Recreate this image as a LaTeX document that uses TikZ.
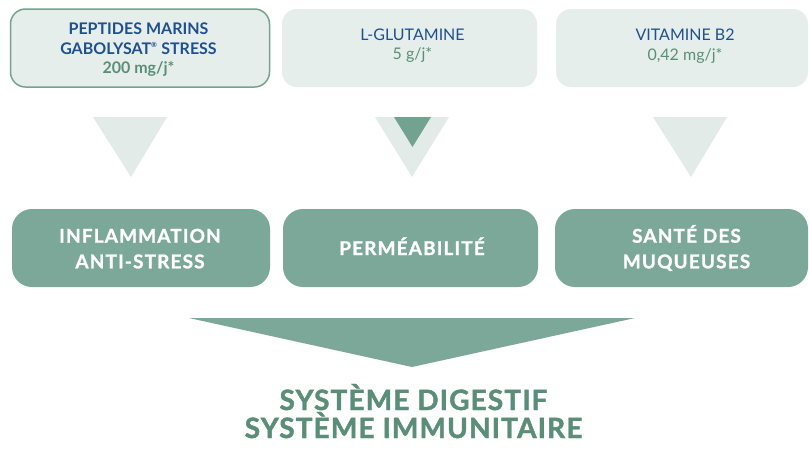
\documentclass[tikz,border=0pt]{standalone}
\usepackage{fontspec}
\setmainfont{Lato}
\newfontfamily\efffont[FakeBold=1.2, LetterSpace=6]{Lato}
\newfontfamily\bigfont[FakeBold=1.5, LetterSpace=4]{Lato}
\definecolor{topfill}{HTML}{E6EEEB}
\definecolor{topborder}{HTML}{76A290}
\definecolor{txtblue}{HTML}{1E4F8F}
\definecolor{dosegreen}{HTML}{5B8E77}
\definecolor{trilight}{HTML}{E3EBE8}
\definecolor{midgreen}{HTML}{7BA898}
\definecolor{darktri}{HTML}{72A390}
\definecolor{bigtext}{HTML}{5B8E78}
\tikzset{
  topbox/.style={fill=topfill, rounded corners=15pt, minimum height=78pt, inner sep=0pt},
  effbox/.style={fill=midgreen, rounded corners=20pt, minimum height=78pt, inner sep=0pt},
  toptxt/.style={anchor=base, text=txtblue, font=\fontsize{16}{19}\selectfont, inner sep=0pt},
  dosetxt/.style={anchor=base, text=dosegreen, font=\fontsize{16}{19}\selectfont, inner sep=0pt},
  efftxt/.style={anchor=base, text=white, font=\efffont\bfseries\fontsize{19}{23}\selectfont, inner sep=0pt},
  bigtxt/.style={anchor=base, text=bigtext, font=\bigfont\bfseries\fontsize{28}{30}\selectfont, inner sep=0pt},
}
\begin{document}
\begin{tikzpicture}[x=1pt,y=-1pt]
\useasboundingbox (0,0) rectangle (809,448);
\fill[white] (0,0) rectangle (809,448);
% top boxes
\node[topbox, draw=topborder, line width=1.5pt, minimum width=259pt] (b1) at (140,48) {};
\node[topbox, minimum width=255pt] (b2) at (409.5,48) {};
\node[topbox, minimum width=252pt] (b3) at (682,48) {};
\node[toptxt, font=\fontsize{16}{19}\selectfont\bfseries] (t1a) at (138.5,34.5) {PEPTIDES MARINS};
\node[toptxt, font=\fontsize{16}{19}\selectfont\bfseries] (t1b) at (138.5,54) {GABOLYSAT\textsuperscript{\scriptsize ®} STRESS};
\node[dosetxt, font=\fontsize{16}{19}\selectfont\bfseries] (t1c) at (138.5,73.5) {200 mg/j*};
\node[toptxt] (t2a) at (412.5,40.5) {L-GLUTAMINE};
\node[dosetxt] (t2b) at (412.5,59.3) {5 g/j*};
\node[toptxt] (t3a) at (685,40.7) {VITAMINE B2};
\node[dosetxt] (t3b) at (685,60) {0,42 mg/j*};
% triangles
\fill[trilight] (93,117) -- (167,117) -- (131,177) -- cycle;
\fill[trilight] (375,117) -- (449,117) -- (412,177) -- cycle;
\fill[darktri] (394,117) -- (431,117) -- (412.5,147) -- cycle;
\fill[trilight] (653,117) -- (727,117) -- (691,177) -- cycle;
% effect boxes
\node[effbox, minimum width=258pt] (e1) at (141,248) {};
\node[effbox, minimum width=255pt] (e2) at (410.5,248) {};
\node[effbox, minimum width=253pt] (e3) at (681.5,248) {};
\node[efftxt] (e1a) at (140,242.7) {INFLAMMATION};
\node[efftxt] (e1b) at (140,268.3) {ANTI-STRESS};
\node[efftxt] (e2a) at (412,255) {PERMÉABILITÉ};
\node[efftxt] (e3a) at (686.5,242.7) {SANTÉ DES};
\node[efftxt] (e3b) at (686.5,268.3) {MUQUEUSES};
% big arrow
\fill[midgreen] (189,318) -- (635,318) -- (412,367) -- cycle;
\node[bigtxt] (s1) at (413.5,410) {SYSTÈME DIGESTIF};
\node[bigtxt] (s2) at (413.5,438) {SYSTÈME IMMUNITAIRE};
\end{tikzpicture}
\end{document}
